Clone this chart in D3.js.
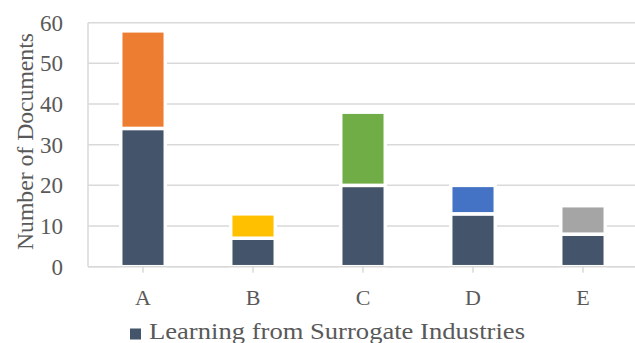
<!DOCTYPE html>
<html>
<head>
<meta charset="utf-8">
<script src="https://cdn.jsdelivr.net/npm/d3@7"></script>
<style>
  html, body { margin: 0; padding: 0; background: #ffffff; overflow: hidden; }
</style>
</head>
<body>
<div id="chart"></div>
<script>
// ############################################################################
// Data
// ############################################################################

const categories  = ["A", "B", "C", "D", "E"]
const baseValues  = [34, 7, 20, 13, 8]       // Learning from Surrogate Industries
const extraValues = [24, 6, 18, 7, 7]        // stacked on top, one colour each
const extraColors = ["#ED7D31", "#FFC000", "#70AD47", "#4472C4", "#A5A5A5"]
const yTicks      = [0, 10, 20, 30, 40, 50, 60]
const seriesName  = "Learning from Surrogate Industries"
const yTitle      = "Number of Documents"

// ############################################################################
// Setup
// ############################################################################

const width  = 635
const height = 343
const plot   = { left: 88, right: 638, top: 22.7, bottom: 266.7 }

const fontFamily = "'Palatino Linotype', 'Book Antiqua', Palatino, 'Liberation Serif', serif"
const textColor  = "#595959"
const gridColor  = "#D9D9D9"
const baseColor  = "#44546A"

const svg = d3.select("#chart")
  .append("svg")
  .attr("width", width)
  .attr("height", height)
  .style("font-family", fontFamily)
  .style("background-color", "#ffffff")

const x = d3.scaleBand()
  .domain(categories)
  .range([plot.left, plot.right])
  .paddingInner(0.595)
  .paddingOuter(0.2975)

const y = d3.scaleLinear()
  .domain([0, 60])
  .range([plot.bottom, plot.top])

// ============================================================================
// Gridlines + y labels
// ============================================================================

svg.append("g")
  .selectAll("line")
  .data(yTicks)
  .join("line")
    .attr("x1", plot.left)
    .attr("x2", plot.right)
    .attr("y1", d => y(d))
    .attr("y2", d => y(d))
    .attr("stroke", gridColor)
    .attr("stroke-width", 1.5)

svg.append("g")
  .selectAll("text")
  .data(yTicks)
  .join("text")
    .attr("x", 63)
    .attr("y", d => y(d))
    .attr("dy", "0.35em")
    .attr("text-anchor", "end")
    .attr("fill", textColor)
    .style("font-size", "23px")
    .text(d => d)

// Vertical axis line
svg.append("line")
  .attr("x1", plot.left)
  .attr("x2", plot.left)
  .attr("y1", plot.top)
  .attr("y2", plot.bottom)
  .attr("stroke", gridColor)
  .attr("stroke-width", 1.5)

// ============================================================================
// Bars
// ============================================================================

const rows = categories.map((c, i) => ({
  cat: c, base: baseValues[i], extra: extraValues[i], color: extraColors[i]
}))

const bars = svg.append("g")

bars.selectAll("rect.base")
  .data(rows)
  .join("rect")
    .attr("class", "base")
    .attr("x", d => x(d.cat))
    .attr("width", x.bandwidth())
    .attr("y", d => y(d.base))
    .attr("height", d => y(0) - y(d.base))
    .attr("fill", baseColor)
    .attr("stroke", "#ffffff")
    .attr("stroke-width", 3.5)

bars.selectAll("rect.extra")
  .data(rows)
  .join("rect")
    .attr("class", "extra")
    .attr("x", d => x(d.cat))
    .attr("width", x.bandwidth())
    .attr("y", d => y(d.base + d.extra))
    .attr("height", d => y(d.base) - y(d.base + d.extra))
    .attr("fill", d => d.color)
    .attr("stroke", "#ffffff")
    .attr("stroke-width", 3.5)

// ============================================================================
// X axis: baseline, ticks, labels
// ============================================================================

svg.append("line")
  .attr("x1", plot.left)
  .attr("x2", plot.right)
  .attr("y1", plot.bottom)
  .attr("y2", plot.bottom)
  .attr("stroke", gridColor)
  .attr("stroke-width", 1.5)

svg.append("g")
  .selectAll("line")
  .data(categories)
  .join("line")
    .attr("x1", d => x(d) + x.bandwidth() / 2)
    .attr("x2", d => x(d) + x.bandwidth() / 2)
    .attr("y1", plot.bottom)
    .attr("y2", plot.bottom + 6)
    .attr("stroke", gridColor)
    .attr("stroke-width", 1.5)

svg.append("g")
  .selectAll("text")
  .data(categories)
  .join("text")
    .attr("x", d => x(d) + x.bandwidth() / 2)
    .attr("y", 305)
    .attr("text-anchor", "middle")
    .attr("fill", textColor)
    .style("font-size", "22px")
    .text(d => d)

// ============================================================================
// Axis title + legend
// ============================================================================

svg.append("text")
  .attr("transform", "translate(32.5,141.5) rotate(-90)")
  .attr("text-anchor", "middle")
  .attr("fill", textColor)
  .attr("textLength", 217)
  .attr("lengthAdjust", "spacingAndGlyphs")
  .style("font-size", "23px")
  .text(yTitle)

svg.append("rect")
  .attr("x", 130)
  .attr("y", 328.5)
  .attr("width", 11)
  .attr("height", 11)
  .attr("fill", baseColor)

svg.append("text")
  .attr("x", 149)
  .attr("y", 339)
  .attr("fill", textColor)
  .attr("textLength", 376)
  .attr("lengthAdjust", "spacingAndGlyphs")
  .style("font-size", "23px")
  .text(seriesName)
</script>
</body>
</html>
